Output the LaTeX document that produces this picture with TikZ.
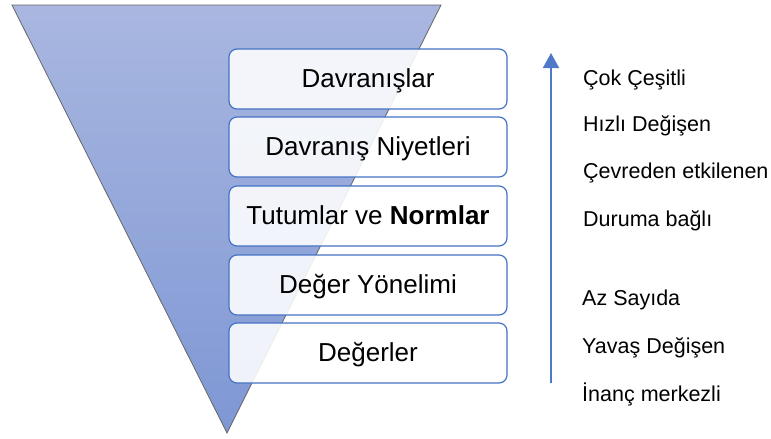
\documentclass[tikz,border=0pt]{standalone}
\usepackage{fontspec}
\setmainfont{Liberation Sans}
\usetikzlibrary{arrows.meta}
\definecolor{triTop}{RGB}{169,183,224}
\definecolor{triBot}{RGB}{126,151,212}
\definecolor{boxBlue}{RGB}{68,114,196}
\definecolor{arrBlue}{RGB}{80,120,200}
\tikzset{
  layerbox/.style={draw=boxBlue, line width=1.2pt, fill=white, fill opacity=0.88, text opacity=1,
    rounded corners=8pt, minimum width=278pt, minimum height=60pt, inner sep=0pt,
    text height=22pt, text depth=5.4pt, font=\fontsize{26}{30}\selectfont},
  sidelabel/.style={anchor=base west, inner sep=0pt, font=\fontsize{21.5}{25}\selectfont}
}
\begin{document}
\begin{tikzpicture}[x=1pt,y=-1pt]
\useasboundingbox (0,0) rectangle (771,439);
% inverted triangle
\coordinate (tl) at (12,5);
\coordinate (tr) at (441,5);
\coordinate (ap) at (227,433);
\shade[top color=triTop, bottom color=triBot] (tl) -- (tr) -- (ap) -- cycle;
\draw[draw=gray!80!black, line width=0.8pt, line join=miter] (tl) -- (tr) -- (ap) -- cycle;
% layer boxes
\node[layerbox] (b1) at (368,79) {Davranışlar};
\node[layerbox] (b2) at (368,147) {Davranış Niyetleri};
\node[layerbox] (b3) at (368,216) {Tutumlar ve \textbf{Normlar}};
\node[layerbox] (b4) at (368,285) {Değer Yönelimi};
\node[layerbox] (b5) at (368,353) {Değerler};
% arrow
\coordinate (as) at (551,383);
\coordinate (ae) at (551,53);
\draw[arrBlue, line width=1.8pt, -{Triangle[length=15pt,width=16pt]}] (as) -- (ae);
% side labels
\node[sidelabel] (l1) at (583,85) {Çok Çeşitli};
\node[sidelabel] (l2) at (583,131) {Hızlı Değişen};
\node[sidelabel] (l3) at (583,178) {Çevreden etkilenen};
\node[sidelabel] (l4) at (583,226) {Duruma bağlı};
\node[sidelabel] (l5) at (582,305) {Az Sayıda};
\node[sidelabel] (l6) at (582,353) {Yavaş Değişen};
\node[sidelabel] (l7) at (582,401) {İnanç merkezli};
\end{tikzpicture}
\end{document}
